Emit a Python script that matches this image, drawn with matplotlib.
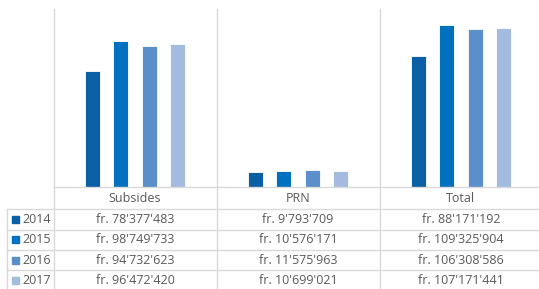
import matplotlib
matplotlib.use("Agg")
import matplotlib.pyplot as plt
from matplotlib.patches import Rectangle
import numpy as np

categories = ["Subsides", "PRN", "Total"]
years = ["2014", "2015", "2016", "2017"]
values = {
    "2014": [78377483, 9793709, 88171192],
    "2015": [98749733, 10576171, 109325904],
    "2016": [94732623, 11575963, 106308586],
    "2017": [96472420, 10699021, 107171441],
}
colors = ["#0B5FA5", "#0070BF", "#5B8FCB", "#A2BBDF"]

W, H = 539, 289
fig = plt.figure(figsize=(W / 100, H / 100), dpi=100)
fig.patch.set_facecolor("white")

font = ["Open Sans", "DejaVu Sans"]
txt_color = "#595959"
grid_color = "#D9D9D9"
fs = 9

# plot area in pixels
left_px, right_px, top_px, base_px = 53.5, 542.5, 9, 187
ax = fig.add_axes([left_px / W, 1 - base_px / H, (right_px - left_px) / W, (base_px - top_px) / H])
ax.set_xlim(0, 3)
ax.set_ylim(0, 120e6)
ax.axis("off")

bw = 0.092
spacing = 0.172
offsets = (np.arange(4) - 1.5) * spacing
x = np.arange(3) + 0.5
for i, y in enumerate(years):
    ax.bar(x + offsets[i], values[y], width=bw, color=colors[i],
           edgecolor="white", linewidth=0.6, zorder=3)

# overlay axes in pixel coordinates for separators / table
ov = fig.add_axes([0, 0, 1, 1])
ov.set_xlim(0, W)
ov.set_ylim(H, 0)
ov.axis("off")
ov.patch.set_alpha(0)

col_w = (right_px - left_px) / 3
col_edges = [left_px + k * col_w for k in range(4)]
for xe in col_edges:
    ov.plot([xe, xe], [top_px, H], color=grid_color, lw=1.0)
ov.plot([left_px, W], [base_px, base_px], color=grid_color, lw=1.0)
row_lines = [209.3, 229.6, 250.0, 270.4]
table_left = 6.7
for yl in row_lines:
    ov.plot([table_left, W], [yl, yl], color=grid_color, lw=1.0)
ov.plot([table_left, table_left], [row_lines[0], H], color=grid_color, lw=1.0)

# header
for k, c in enumerate(categories):
    ov.text(left_px + (k + 0.5) * col_w, (base_px + row_lines[0]) / 2, c,
            ha="center", va="center", fontsize=fs, color=txt_color, family=font)

def fmt(v):
    s = f"{v:,}".replace(",", "'")
    return "fr. " + s

row_centers = [(row_lines[i] + (row_lines[i + 1] if i + 1 < len(row_lines) else row_lines[i] + 20.4)) / 2
               for i in range(4)]
for i, y in enumerate(years):
    yc = row_centers[i]
    ov.add_patch(Rectangle((11.5, yc - 3.6), 7, 7, color=colors[i]))
    ov.text(22, yc, y, ha="left", va="center", fontsize=fs, color=txt_color, family=font)
    for k in range(3):
        ov.text(left_px + (k + 0.5) * col_w, yc, fmt(values[y][k]),
                ha="center", va="center", fontsize=fs, color=txt_color, family=font)

fig.savefig("out.png", dpi=100)
